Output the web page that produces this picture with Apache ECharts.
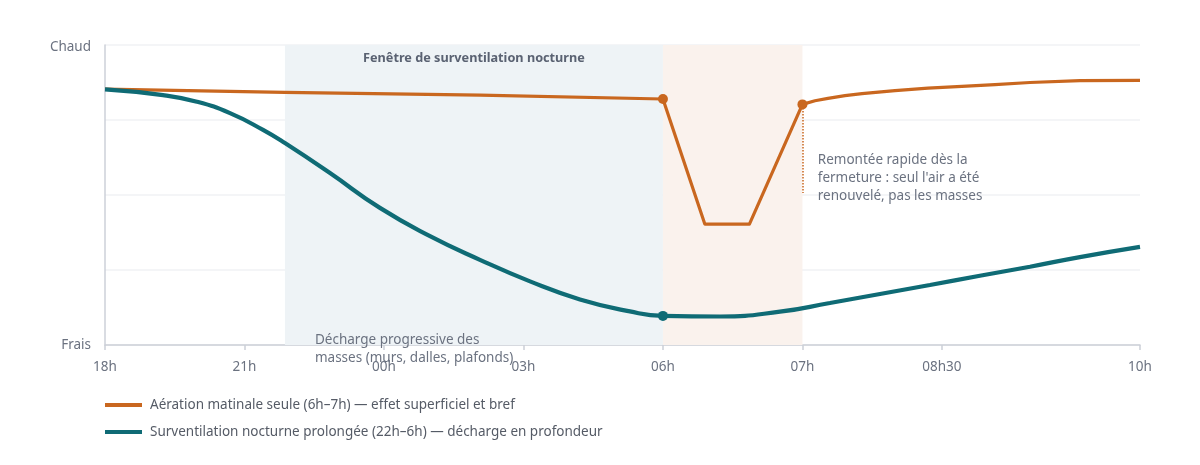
<!DOCTYPE html>
<html>
<head>
<meta charset="utf-8">
<script src="https://cdn.jsdelivr.net/npm/echarts@6/dist/echarts.min.js"></script>
<style>
html,body{margin:0;padding:0;background:#fff;}
#chart{width:1200px;height:465px;}
</style>
</head>
<body>
<div id="chart"></div>
<script>
// axe horizontal : positions des graduations (pas linéaire en heures)
var tickPos = [0, 1, 2, 3, 4, 5, 6, 7.42];
var tickLabels = ['18h', '21h', '00h', '03h', '06h', '07h', '08h30', '10h'];

// aération matinale seule
var morningX = [0, 1.29, 2.69, 4.0, 4.3, 4.62, 5.0, 5.09, 5.183, 5.305, 5.427, 5.663, 5.9, 6.143, 6.38, 6.631, 6.989, 7.42];
var morningY = [85.3, 84.2, 83.3, 82, 40.3, 40.3, 80.2, 81.4, 82.2, 83.1, 83.8, 84.8, 85.6, 86.2, 86.8, 87.5, 88.1, 88.2];

// surventilation nocturne
var nightX = [0, 0.416, 0.659, 0.896, 1.133, 1.29, 1.613, 1.971, 2.33, 2.688, 3.047, 3.405, 3.763, 4.0,
              4.409, 4.839, 5.197, 5.556, 5.914, 6.272, 6.631, 6.989, 7.42];
var nightY = [85.2, 83.3, 81.1, 77.3, 71.7, 67.3, 57.3, 45.7, 36.3, 28.4, 21.2, 15.2, 11.2, 9.7,
              9.5, 11.1, 14, 17, 20, 23.1, 26.1, 29.3, 32.7];

// points marqués (06h, 07h)
var morningDots = [4.0, 5.0];
var nightDots = [4.0];

// fenêtres
var nightWindow = [1.29, 4.0];
var morningWindow = [4.0, 5.0];

var orange = '#c9671f';
var teal = '#0f6b75';
var greyText = '#6b7280';
var fontName = 'Noto Sans';
var fs = 13.5;

function buildData(xs, ys, dots, size) {
    var out = [];
    for (var i = 0; i < xs.length; i++) {
        var item = {value: [xs[i], ys[i]]};
        if (dots.indexOf(xs[i]) >= 0) {
            item.symbol = 'circle';
            item.symbolSize = size;
        }
        out.push(item);
    }
    return out;
}

var chart = echarts.init(document.getElementById('chart'), null, {renderer: 'canvas'});

var option = {
    animation: false,
    textStyle: {fontFamily: fontName},
    grid: {left: 105, right: 60, top: 45, bottom: 120, containLabel: false},
    legend: {
        orient: 'vertical',
        left: 100,
        top: 393,
        itemGap: 13,
        itemWidth: 37,
        itemHeight: 4,
        icon: 'rect',
        textStyle: {color: '#555b66', fontSize: fs, fontFamily: fontName, padding: [0, 0, 0, 3]},
        data: ['Aération matinale seule (6h–7h) — effet superficiel et bref',
               'Surventilation nocturne prolongée (22h–6h) — décharge en profondeur']
    },
    xAxis: {
        type: 'value',
        min: 0,
        max: tickPos[tickPos.length - 1],
        axisLine: {show: true, lineStyle: {color: '#ccd0d8', width: 1.5}},
        axisTick: {show: true, length: 5, customValues: tickPos, lineStyle: {color: '#ccd0d8', width: 1.5}},
        axisLabel: {
            customValues: tickPos,
            color: greyText,
            fontSize: fs,
            margin: 15,
            formatter: function (v) {
                for (var i = 0; i < tickPos.length; i++) {
                    if (Math.abs(tickPos[i] - v) < 1e-6) return tickLabels[i];
                }
                return '';
            }
        },
        splitLine: {show: false}
    },
    yAxis: {
        type: 'value',
        min: 0,
        max: 100,
        interval: 25,
        axisLine: {show: true, lineStyle: {color: '#ccd0d8', width: 1.5}},
        axisTick: {show: false},
        axisLabel: {
            color: greyText,
            fontSize: fs,
            margin: 14,
            formatter: function (v) {
                if (v == 0) return 'Frais';
                if (v == 100) return '{t|Chaud}';
                return '';
            },
            rich: {t: {color: greyText, fontSize: fs, fontFamily: fontName, padding: [4, 0, 0, 0]}}
        },
        splitLine: {lineStyle: {color: '#f1f2f4', width: 1.5}}
    },
    series: [
        {
            name: 'Aération matinale seule (6h–7h) — effet superficiel et bref',
            type: 'line',
            symbol: 'none',
            z: 3,
            color: orange,
            lineStyle: {color: orange, width: 3.2, join: 'round'},
            itemStyle: {color: orange},
            data: buildData(morningX, morningY, morningDots, 10),
            markArea: {
                silent: true,
                data: [
                    [{xAxis: nightWindow[0], itemStyle: {color: '#eef3f6'},
                      label: {show: true, position: 'insideTop', distance: 7, color: '#5a6272',
                              fontWeight: 'bold', fontSize: 12.7, fontFamily: fontName,
                              formatter: 'Fenêtre de surventilation nocturne'}},
                     {xAxis: nightWindow[1]}],
                    [{xAxis: morningWindow[0], itemStyle: {color: '#faf2ed'}, label: {show: false}},
                     {xAxis: morningWindow[1]}]
                ]
            },
            markLine: {
                silent: true,
                symbol: 'none',
                label: {show: false},
                lineStyle: {color: orange, type: 'dotted', width: 1.5},
                data: [[{coord: [5.0, 79]}, {coord: [5.0, 50.7]}]]
            }
        },
        {
            name: 'Surventilation nocturne prolongée (22h–6h) — décharge en profondeur',
            type: 'line',
            symbol: 'none',
            smooth: 0.5,
            z: 4,
            color: teal,
            lineStyle: {color: teal, width: 4.2},
            itemStyle: {color: teal},
            data: buildData(nightX, nightY, nightDots, 10)
        }
    ]
};
chart.setOption(option);

// textes d'annotation, placés en coordonnées de données
var notes = [
    {x: 1.505, y: 4.7, text: 'Décharge progressive des\nmasses (murs, dalles, plafonds)'},
    {x: 5.11, y: 64.7, text: 'Remontée rapide dès la\nfermeture : seul l\'air a été\nrenouvelé, pas les masses'}
];
var elements = [];
for (var k = 0; k < notes.length; k++) {
    var p = chart.convertToPixel({gridIndex: 0}, [notes[k].x, notes[k].y]);
    elements.push({
        type: 'text',
        x: p[0],
        y: p[1],
        z: 10,
        style: {
            text: notes[k].text,
            fill: greyText,
            font: fs + 'px ' + fontName,
            lineHeight: 18,
            textAlign: 'left',
            textVerticalAlign: 'top'
        }
    });
}
chart.setOption({graphic: {elements: elements}});
</script>
</body>
</html>
